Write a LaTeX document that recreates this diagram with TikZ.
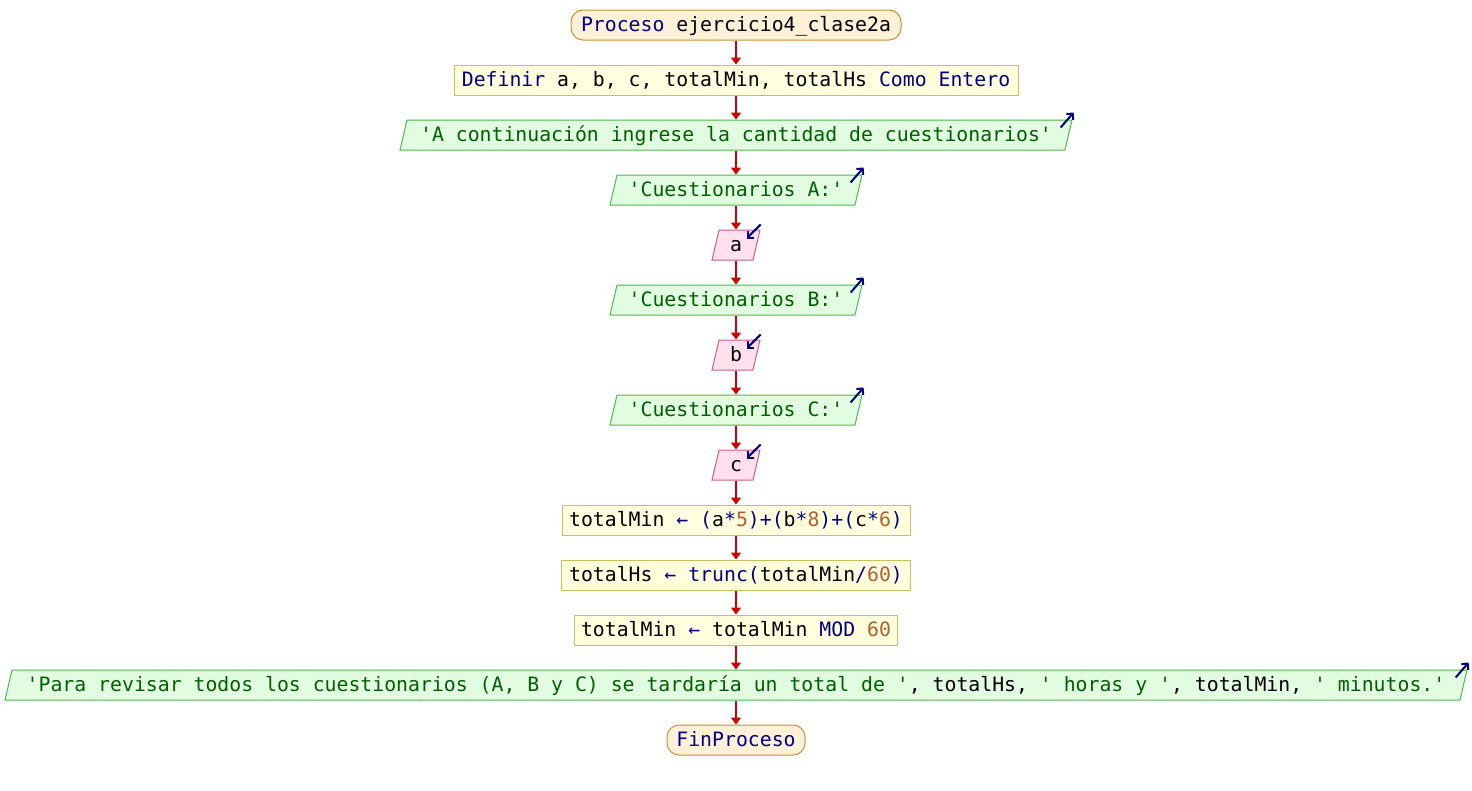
\documentclass[tikz,border=0pt]{standalone}
\usepackage{fontspec}
\setmonofont{DejaVu Sans Mono}
\usetikzlibrary{shapes.geometric,arrows.meta}
\definecolor{kw}{HTML}{000080}
\definecolor{st}{HTML}{006000}
\definecolor{nm}{HTML}{B06030}
\definecolor{termfill}{HTML}{FFF0D8}
\definecolor{termdraw}{HTML}{C8903C}
\definecolor{procfill}{HTML}{FFFFDD}
\definecolor{procdraw}{HTML}{C8C060}
\definecolor{outfill}{HTML}{E2FCE2}
\definecolor{outdraw}{HTML}{50B850}
\definecolor{infill}{HTML}{FFE0EC}
\definecolor{indraw}{HTML}{C86088}
\definecolor{flow}{HTML}{CC0000}
\begin{document}
\begin{tikzpicture}[x=1pt,y=-1pt,
  base/.style={font=\ttfamily\fontsize{19.8}{24}\selectfont, minimum height=30pt,
    inner xsep=2pt, inner ysep=0pt, line width=1pt, text height=17pt, text depth=4pt},
  term/.style={base, rectangle, rounded corners=12pt, fill=termfill, draw=termdraw},
  proc/.style={base, rectangle, fill=procfill, draw=procdraw},
  para/.style={base, trapezium, trapezium left angle=71.5, trapezium right angle=108.5,
    trapezium stretches body},
  outp/.style={para, fill=outfill, draw=outdraw},
  inp/.style={para, fill=infill, draw=indraw},
  flowarrow/.style={draw=flow, line width=1.6pt, -{Triangle[width=10pt,length=7pt]}},
  icon/.style={draw=kw, line width=2pt, -{Straight Barb[length=4.5pt,width=9pt]}}
]
\fill[white] (0,0) rectangle (1472,790);
\useasboundingbox (0,0) rectangle (1472,790);

\node[term, minimum width=330pt] (start) at (736,25) {\textcolor{kw}{Proceso} ejercicio4\_clase2a};
\node[proc, minimum width=564pt] (def) at (736,80) {\textcolor{kw}{Definir} a, b, c, totalMin, totalHs \textcolor{kw}{Como Entero}};
\node[outp, minimum width=672pt] (o1) at (736,135) {\textcolor{st}{'A continuación ingrese la cantidad de cuestionarios'}};
\node[outp, minimum width=252pt] (oA) at (736,190) {\textcolor{st}{'Cuestionarios A:'}};
\node[inp, minimum width=48pt] (ia) at (736,245) {a};
\node[outp, minimum width=252pt] (oB) at (736,300) {\textcolor{st}{'Cuestionarios B:'}};
\node[inp, minimum width=48pt] (ib) at (736,355) {b};
\node[outp, minimum width=252pt] (oC) at (736,410) {\textcolor{st}{'Cuestionarios C:'}};
\node[inp, minimum width=48pt] (ic) at (736,465) {c};
\node[proc, minimum width=348pt] (s1) at (736,520) {totalMin \textcolor{kw}{← (}a\textcolor{kw}{*}\textcolor{nm}{5}\textcolor{kw}{)+(}b\textcolor{kw}{*}\textcolor{nm}{8}\textcolor{kw}{)+(}c\textcolor{kw}{*}\textcolor{nm}{6}\textcolor{kw}{)}};
\node[proc, minimum width=349pt] (s2) at (736,575) {totalHs \textcolor{kw}{← trunc(}totalMin\textcolor{kw}{/}\textcolor{nm}{60}\textcolor{kw}{)}};
\node[proc, minimum width=323pt] (s3) at (736,630) {totalMin \textcolor{kw}{←} totalMin \textcolor{kw}{MOD} \textcolor{nm}{60}};
\node[outp, minimum width=1462pt] (o2) at (736,685) {\textcolor{st}{'Para revisar todos los cuestionarios (A, B y C) se tardaría un total de '}, totalHs, \textcolor{st}{' horas y '}, totalMin, \textcolor{st}{' minutos.'}};
\node[term, minimum width=138pt] (fin) at (736,740) {\textcolor{kw}{FinProceso}};

\foreach \a/\b in {start/def, def/o1, o1/oA, oA/ia, ia/oB, oB/ib, ib/oC, oC/ic, ic/s1, s1/s2, s2/s3, s3/o2, o2/fin}
  \draw[flowarrow] (\a.center |- \a.south) -- (\a.center |- \b.north);

\foreach \n in {o1, oA, oB, oC, o2}
  \draw[icon] ([shift={(-12,8)}]\n.top right corner) -- ([shift={(1,-7)}]\n.top right corner);
\foreach \n in {ia, ib, ic}
  \draw[icon] ([shift={(0,-5)}]\n.top right corner) -- ([shift={(-14,9)}]\n.top right corner);
\end{tikzpicture}
\end{document}
